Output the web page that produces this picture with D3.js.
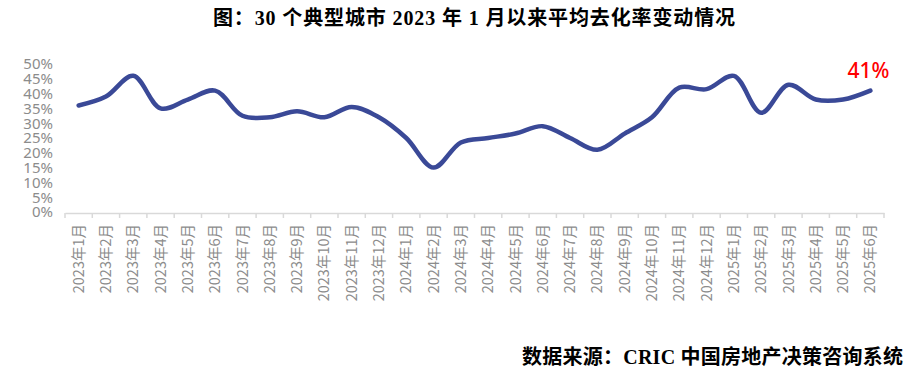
<!DOCTYPE html>
<html>
<head>
<meta charset="utf-8">
<script src="https://cdn.jsdelivr.net/npm/d3@7"></script>
<style>
  body { margin: 0; background: #fff; }
  svg { display: block; }
</style>
</head>
<body>
<div class="chart"></div>
<script>
// months, 2023-01 .. 2025-06
const months = [
  '2023年1月', '2023年2月', '2023年3月', '2023年4月', '2023年5月', '2023年6月',
  '2023年7月', '2023年8月', '2023年9月', '2023年10月', '2023年11月', '2023年12月',
  '2024年1月', '2024年2月', '2024年3月', '2024年4月', '2024年5月', '2024年6月',
  '2024年7月', '2024年8月', '2024年9月', '2024年10月', '2024年11月', '2024年12月',
  '2025年1月', '2025年2月', '2025年3月', '2025年4月', '2025年5月', '2025年6月'
];
// 平均去化率 (%)
const rates = [
  36, 39, 46, 35, 38, 41,
  32.5, 32, 34, 32, 35.5, 32,
  25, 15, 23.5, 25, 26.5, 29,
  25, 21, 26.5, 32, 42, 41.5,
  46, 33.5, 43, 38, 38, 41
];
const yTicks = [0, 5, 10, 15, 20, 25, 30, 35, 40, 45, 50];
const lastLabel = '41%';

const WIDTH = 914, HEIGHT = 374;
const MARGINS = {top: 64, right: 30, bottom: 162, left: 65};

const svg = d3.select('.chart')
  .append('svg')
  .attr('width', WIDTH)
  .attr('height', HEIGHT);

// title
svg.append('text')
  .attr('x', 474)
  .attr('y', 25)
  .attr('text-anchor', 'middle')
  .attr('textLength', 522)
  .attr('lengthAdjust', 'spacing')
  .style('font-family', '"Liberation Serif", "Noto Sans CJK SC", serif')
  .style('font-size', '20px')
  .style('font-weight', 'bold')
  .style('fill', '#000')
  .text('图：30 个典型城市 2023 年 1 月以来平均去化率变动情况');

const xRange = d3.scaleBand()
  .domain(months)
  .range([MARGINS.left, 884]);

const yRange = d3.scaleLinear()
  .domain([0, 50])
  .range([HEIGHT - MARGINS.bottom, MARGINS.top]);

const axisY = HEIGHT - MARGINS.bottom + 1;

// y axis (labels only)
const yAxisg = svg.append('g')
  .attr('transform', 'translate(' + MARGINS.left + ',0)')
  .call(d3.axisLeft(yRange)
    .tickValues(yTicks)
    .tickFormat(d => d + '%')
    .tickSize(0)
    .tickPadding(12));
yAxisg.select('.domain').remove();
yAxisg.selectAll('.tick text')
  .style('font-family', '"Noto Sans", sans-serif')
  .style('font-size', '15px')
  .style('fill', '#8c8c8c');

// x axis
const xAxisg = svg.append('g')
  .attr('transform', 'translate(0,' + axisY + ')')
  .call(d3.axisBottom(xRange).tickSize(0));
xAxisg.select('.domain')
  .attr('stroke', '#d9d9d9')
  .attr('stroke-width', 1.5);
xAxisg.selectAll('.tick text')
  .attr('transform', 'rotate(-90)')
  .attr('x', -11)
  .attr('y', 0)
  .attr('dy', '0.35em')
  .attr('text-anchor', 'end')
  .style('font-family', '"Noto Sans CJK SC", sans-serif')
  .style('font-size', '14.5px')
  .style('fill', '#8c8c8c');

// tick marks at band boundaries
const edges = d3.range(months.length + 1).map(i => xRange.range()[0] + i * xRange.step());
svg.selectAll('.edge')
  .data(edges)
  .enter()
  .append('line')
  .attr('x1', d => d)
  .attr('x2', d => d)
  .attr('y1', axisY)
  .attr('y2', axisY + 5)
  .attr('stroke', '#d9d9d9')
  .attr('stroke-width', 1.5);

// line
const points = months.map((m, i) => ({m: m, v: rates[i]}));
const lineFunction = d3.line()
  .x(d => xRange(d.m) + xRange.bandwidth() / 2)
  .y(d => yRange(d.v))
  .curve(d3.curveCatmullRom.alpha(0.5));

svg.append('path')
  .attr('d', lineFunction(points))
  .attr('fill', 'none')
  .attr('stroke', '#3a4997')
  .attr('stroke-width', 4.5)
  .attr('stroke-linecap', 'round')
  .attr('stroke-linejoin', 'round');

// last value label
const last = points[points.length - 1];
svg.append('text')
  .attr('x', xRange(last.m) + xRange.bandwidth() / 2 - 2)
  .attr('y', yRange(last.v) - 13)
  .attr('text-anchor', 'middle')
  .style('font-family', '"Noto Sans", sans-serif')
  .style('font-size', '21px')
  .style('font-weight', '500')
  .style('fill', '#ff0000')
  .text(lastLabel);

// source
svg.append('text')
  .attr('x', 903)
  .attr('y', 364)
  .attr('text-anchor', 'end')
  .attr('textLength', 381)
  .attr('lengthAdjust', 'spacing')
  .style('font-family', '"Liberation Serif", "Noto Sans CJK SC", serif')
  .style('font-size', '20px')
  .style('font-weight', 'bold')
  .style('fill', '#000')
  .text('数据来源：CRIC 中国房地产决策咨询系统');
</script>
</body>
</html>
